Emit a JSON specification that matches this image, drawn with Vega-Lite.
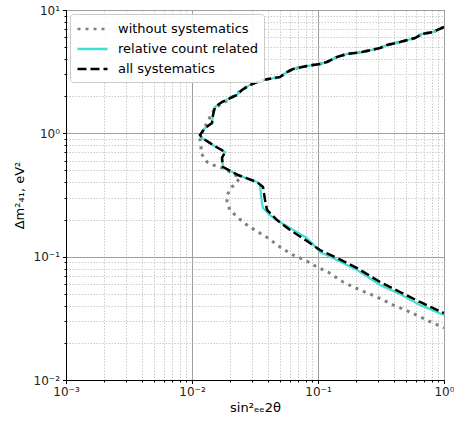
{
  "$schema": "https://vega.github.io/schema/vega-lite/v6.json",
  "width": 378,
  "height": 370,
  "autosize": {"type": "none"},
  "padding": {"left": 66, "top": 10, "right": 10, "bottom": 41},
  "config": {
    "font": "DejaVu Sans",
    "view": {"stroke": "#000", "strokeWidth": 1},
    "axis": {
      "domainColor": "#000",
      "tickColor": "#000",
      "labelColor": "#222",
      "titleColor": "#000",
      "labelFontSize": 12,
      "titleFontSize": 13,
      "titleFontWeight": "normal",
      "labelOverlap": false,
      "labelFlush": false,
      "grid": true,
      "gridColor": {"condition": {"test": "abs(log(datum.value)/LN10 - round(log(datum.value)/LN10)) < 0.001", "value": "#a0a0a0"}, "value": "#cccccc"},
      "gridDash": {"condition": {"test": "abs(log(datum.value)/LN10 - round(log(datum.value)/LN10)) < 0.001", "value": []}, "value": [1.5, 1.5]},
      "tickSize": {"condition": {"test": "abs(log(datum.value)/LN10 - round(log(datum.value)/LN10)) < 0.001", "value": 3.5}, "value": 2}
    },
    "legend": {
      "orient": "top-left",
      "offset": 4,
      "labelFontSize": 13,
      "labelColor": "#000",
      "symbolType": "M-1,0L3,0",
      "symbolSize": 225,
      "symbolStrokeWidth": 2.5,
      "strokeColor": "#cccccc",
      "fillColor": "rgba(255,255,255,0.85)",
      "padding": 6,
      "cornerRadius": 3,
      "rowPadding": 4,
      "labelOffset": 24
    }
  },
  "data": {
    "values": [
      {"series": "without systematics", "i": 1, "x": 1.0, "y": 7.28},
      {"series": "without systematics", "i": 2, "x": 0.818, "y": 6.63},
      {"series": "without systematics", "i": 3, "x": 0.669, "y": 6.39},
      {"series": "without systematics", "i": 4, "x": 0.589, "y": 5.93},
      {"series": "without systematics", "i": 5, "x": 0.447, "y": 5.5},
      {"series": "without systematics", "i": 6, "x": 0.353, "y": 5.2},
      {"series": "without systematics", "i": 7, "x": 0.311, "y": 4.92},
      {"series": "without systematics", "i": 8, "x": 0.2235, "y": 4.56},
      {"series": "without systematics", "i": 9, "x": 0.17, "y": 4.4},
      {"series": "without systematics", "i": 10, "x": 0.1415, "y": 4.16},
      {"series": "without systematics", "i": 11, "x": 0.1179, "y": 3.79},
      {"series": "without systematics", "i": 12, "x": 0.1037, "y": 3.65},
      {"series": "without systematics", "i": 13, "x": 0.0818, "y": 3.52},
      {"series": "without systematics", "i": 14, "x": 0.0633, "y": 3.32},
      {"series": "without systematics", "i": 15, "x": 0.0568, "y": 3.14},
      {"series": "without systematics", "i": 16, "x": 0.0499, "y": 2.86},
      {"series": "without systematics", "i": 17, "x": 0.0366, "y": 2.71},
      {"series": "without systematics", "i": 18, "x": 0.02887, "y": 2.47},
      {"series": "without systematics", "i": 19, "x": 0.02493, "y": 2.25},
      {"series": "without systematics", "i": 20, "x": 0.0193, "y": 1.864},
      {"series": "without systematics", "i": 21, "x": 0.01522, "y": 1.605},
      {"series": "without systematics", "i": 22, "x": 0.0139, "y": 1.356},
      {"series": "without systematics", "i": 23, "x": 0.01315, "y": 1.213},
      {"series": "without systematics", "i": 24, "x": 0.01223, "y": 1.064},
      {"series": "without systematics", "i": 25, "x": 0.01157, "y": 0.883},
      {"series": "without systematics", "i": 26, "x": 0.01179, "y": 0.775},
      {"series": "without systematics", "i": 27, "x": 0.01179, "y": 0.693},
      {"series": "without systematics", "i": 28, "x": 0.01315, "y": 0.586},
      {"series": "without systematics", "i": 29, "x": 0.01468, "y": 0.554},
      {"series": "without systematics", "i": 30, "x": 0.0173, "y": 0.524},
      {"series": "without systematics", "i": 31, "x": 0.02077, "y": 0.477},
      {"series": "without systematics", "i": 32, "x": 0.02404, "y": 0.434},
      {"series": "without systematics", "i": 33, "x": 0.02077, "y": 0.367},
      {"series": "without systematics", "i": 34, "x": 0.01896, "y": 0.316},
      {"series": "without systematics", "i": 35, "x": 0.01896, "y": 0.272},
      {"series": "without systematics", "i": 36, "x": 0.02002, "y": 0.239},
      {"series": "without systematics", "i": 37, "x": 0.02276, "y": 0.21},
      {"series": "without systematics", "i": 38, "x": 0.02732, "y": 0.1806},
      {"series": "without systematics", "i": 39, "x": 0.0334, "y": 0.1585},
      {"series": "without systematics", "i": 40, "x": 0.0401, "y": 0.1417},
      {"series": "without systematics", "i": 41, "x": 0.0499, "y": 0.1198},
      {"series": "without systematics", "i": 42, "x": 0.0633, "y": 0.1032},
      {"series": "without systematics", "i": 43, "x": 0.0788, "y": 0.0939},
      {"series": "without systematics", "i": 44, "x": 0.0982, "y": 0.0824},
      {"series": "without systematics", "i": 45, "x": 0.12, "y": 0.0751},
      {"series": "without systematics", "i": 46, "x": 0.158, "y": 0.0623},
      {"series": "without systematics", "i": 47, "x": 0.2154, "y": 0.0537},
      {"series": "without systematics", "i": 48, "x": 0.294, "y": 0.0471},
      {"series": "without systematics", "i": 49, "x": 0.3936, "y": 0.0406},
      {"series": "without systematics", "i": 50, "x": 0.537, "y": 0.0356},
      {"series": "without systematics", "i": 51, "x": 0.733, "y": 0.0306},
      {"series": "without systematics", "i": 52, "x": 1.0, "y": 0.0264},

      {"series": "relative count related", "i": 1, "x": 1.0, "y": 7.28},
      {"series": "relative count related", "i": 2, "x": 0.818, "y": 6.63},
      {"series": "relative count related", "i": 3, "x": 0.669, "y": 6.39},
      {"series": "relative count related", "i": 4, "x": 0.589, "y": 5.93},
      {"series": "relative count related", "i": 5, "x": 0.447, "y": 5.5},
      {"series": "relative count related", "i": 6, "x": 0.353, "y": 5.2},
      {"series": "relative count related", "i": 7, "x": 0.311, "y": 4.92},
      {"series": "relative count related", "i": 8, "x": 0.2235, "y": 4.56},
      {"series": "relative count related", "i": 9, "x": 0.17, "y": 4.4},
      {"series": "relative count related", "i": 10, "x": 0.1415, "y": 4.16},
      {"series": "relative count related", "i": 11, "x": 0.1179, "y": 3.79},
      {"series": "relative count related", "i": 12, "x": 0.1037, "y": 3.65},
      {"series": "relative count related", "i": 13, "x": 0.0818, "y": 3.52},
      {"series": "relative count related", "i": 14, "x": 0.0633, "y": 3.32},
      {"series": "relative count related", "i": 15, "x": 0.0568, "y": 3.14},
      {"series": "relative count related", "i": 16, "x": 0.0499, "y": 2.86},
      {"series": "relative count related", "i": 17, "x": 0.0366, "y": 2.71},
      {"series": "relative count related", "i": 18, "x": 0.02887, "y": 2.47},
      {"series": "relative count related", "i": 19, "x": 0.02493, "y": 2.25},
      {"series": "relative count related", "i": 20, "x": 0.02276, "y": 2.05},
      {"series": "relative count related", "i": 21, "x": 0.0173, "y": 1.795},
      {"series": "relative count related", "i": 22, "x": 0.01522, "y": 1.635},
      {"series": "relative count related", "i": 23, "x": 0.01468, "y": 1.408},
      {"series": "relative count related", "i": 24, "x": 0.01441, "y": 1.213},
      {"series": "relative count related", "i": 25, "x": 0.01268, "y": 1.105},
      {"series": "relative count related", "i": 26, "x": 0.01157, "y": 0.969},
      {"series": "relative count related", "i": 27, "x": 0.01201, "y": 0.917},
      {"series": "relative count related", "i": 28, "x": 0.01468, "y": 0.804},
      {"series": "relative count related", "i": 29, "x": 0.01828, "y": 0.706},
      {"series": "relative count related", "i": 30, "x": 0.0173, "y": 0.631},
      {"series": "relative count related", "i": 31, "x": 0.01762, "y": 0.533},
      {"series": "relative count related", "i": 32, "x": 0.02318, "y": 0.459},
      {"series": "relative count related", "i": 33, "x": 0.0328, "y": 0.403},
      {"series": "relative count related", "i": 34, "x": 0.0346, "y": 0.381},
      {"series": "relative count related", "i": 35, "x": 0.0359, "y": 0.272},
      {"series": "relative count related", "i": 36, "x": 0.0366, "y": 0.248},
      {"series": "relative count related", "i": 37, "x": 0.0431, "y": 0.21},
      {"series": "relative count related", "i": 38, "x": 0.0499, "y": 0.191},
      {"series": "relative count related", "i": 39, "x": 0.06, "y": 0.1708},
      {"series": "relative count related", "i": 40, "x": 0.0818, "y": 0.1417},
      {"series": "relative count related", "i": 41, "x": 0.1037, "y": 0.1091},
      {"series": "relative count related", "i": 42, "x": 0.1415, "y": 0.0939},
      {"series": "relative count related", "i": 43, "x": 0.204, "y": 0.078},
      {"series": "relative count related", "i": 44, "x": 0.311, "y": 0.0589},
      {"series": "relative count related", "i": 45, "x": 0.447, "y": 0.0498},
      {"series": "relative count related", "i": 46, "x": 0.645, "y": 0.0406},
      {"series": "relative count related", "i": 47, "x": 1.0, "y": 0.0336},

      {"series": "all systematics", "i": 1, "x": 1.0, "y": 7.28},
      {"series": "all systematics", "i": 2, "x": 0.818, "y": 6.63},
      {"series": "all systematics", "i": 3, "x": 0.669, "y": 6.39},
      {"series": "all systematics", "i": 4, "x": 0.589, "y": 5.93},
      {"series": "all systematics", "i": 5, "x": 0.447, "y": 5.5},
      {"series": "all systematics", "i": 6, "x": 0.353, "y": 5.2},
      {"series": "all systematics", "i": 7, "x": 0.311, "y": 4.92},
      {"series": "all systematics", "i": 8, "x": 0.2235, "y": 4.56},
      {"series": "all systematics", "i": 9, "x": 0.17, "y": 4.4},
      {"series": "all systematics", "i": 10, "x": 0.1415, "y": 4.16},
      {"series": "all systematics", "i": 11, "x": 0.1179, "y": 3.79},
      {"series": "all systematics", "i": 12, "x": 0.1037, "y": 3.65},
      {"series": "all systematics", "i": 13, "x": 0.0818, "y": 3.52},
      {"series": "all systematics", "i": 14, "x": 0.0633, "y": 3.32},
      {"series": "all systematics", "i": 15, "x": 0.0568, "y": 3.14},
      {"series": "all systematics", "i": 16, "x": 0.0499, "y": 2.86},
      {"series": "all systematics", "i": 17, "x": 0.0366, "y": 2.71},
      {"series": "all systematics", "i": 18, "x": 0.02887, "y": 2.47},
      {"series": "all systematics", "i": 19, "x": 0.02493, "y": 2.25},
      {"series": "all systematics", "i": 20, "x": 0.02276, "y": 2.05},
      {"series": "all systematics", "i": 21, "x": 0.0173, "y": 1.795},
      {"series": "all systematics", "i": 22, "x": 0.01522, "y": 1.635},
      {"series": "all systematics", "i": 23, "x": 0.01468, "y": 1.408},
      {"series": "all systematics", "i": 24, "x": 0.01441, "y": 1.213},
      {"series": "all systematics", "i": 25, "x": 0.01268, "y": 1.105},
      {"series": "all systematics", "i": 26, "x": 0.01157, "y": 0.969},
      {"series": "all systematics", "i": 27, "x": 0.01201, "y": 0.917},
      {"series": "all systematics", "i": 28, "x": 0.01468, "y": 0.804},
      {"series": "all systematics", "i": 29, "x": 0.01828, "y": 0.706},
      {"series": "all systematics", "i": 30, "x": 0.0173, "y": 0.631},
      {"series": "all systematics", "i": 31, "x": 0.01762, "y": 0.533},
      {"series": "all systematics", "i": 32, "x": 0.02318, "y": 0.459},
      {"series": "all systematics", "i": 33, "x": 0.0328, "y": 0.403},
      {"series": "all systematics", "i": 34, "x": 0.0366, "y": 0.367},
      {"series": "all systematics", "i": 35, "x": 0.038, "y": 0.288},
      {"series": "all systematics", "i": 36, "x": 0.0394, "y": 0.239},
      {"series": "all systematics", "i": 37, "x": 0.0473, "y": 0.198},
      {"series": "all systematics", "i": 38, "x": 0.06, "y": 0.1645},
      {"series": "all systematics", "i": 39, "x": 0.0818, "y": 0.134},
      {"series": "all systematics", "i": 40, "x": 0.1037, "y": 0.1132},
      {"series": "all systematics", "i": 41, "x": 0.1415, "y": 0.0975},
      {"series": "all systematics", "i": 42, "x": 0.204, "y": 0.0809},
      {"series": "all systematics", "i": 43, "x": 0.311, "y": 0.0623},
      {"series": "all systematics", "i": 44, "x": 0.447, "y": 0.0517},
      {"series": "all systematics", "i": 45, "x": 0.645, "y": 0.0429},
      {"series": "all systematics", "i": 46, "x": 1.0, "y": 0.0349}
    ]
  },
  "encoding": {
    "x": {
      "field": "x",
      "type": "quantitative",
      "scale": {"type": "log", "domain": [0.001, 1], "nice": false},
      "axis": {
        "title": "sin²ₑₑ2θ",
        "values": [0.001, 0.002, 0.003, 0.004, 0.005, 0.006, 0.007, 0.008, 0.009, 0.01, 0.02, 0.03, 0.04, 0.05, 0.06, 0.07, 0.08, 0.09, 0.1, 0.2, 0.3, 0.4, 0.5, 0.6, 0.7, 0.8, 0.9, 1],
        "labelExpr": "abs(log(datum.value)/LN10 - round(log(datum.value)/LN10)) > 0.001 ? '' : round(log(datum.value)/LN10) == -3 ? '10⁻³' : round(log(datum.value)/LN10) == -2 ? '10⁻²' : round(log(datum.value)/LN10) == -1 ? '10⁻¹' : '10⁰'",
        "labelPadding": 3,
        "titlePadding": 4
      }
    },
    "y": {
      "field": "y",
      "type": "quantitative",
      "scale": {"type": "log", "domain": [0.01, 10], "nice": false},
      "axis": {
        "title": "Δm²₄₁, eV²",
        "values": [0.01, 0.02, 0.03, 0.04, 0.05, 0.06, 0.07, 0.08, 0.09, 0.1, 0.2, 0.3, 0.4, 0.5, 0.6, 0.7, 0.8, 0.9, 1, 2, 3, 4, 5, 6, 7, 8, 9, 10],
        "labelExpr": "abs(log(datum.value)/LN10 - round(log(datum.value)/LN10)) > 0.001 ? '' : round(log(datum.value)/LN10) == -2 ? '10⁻²' : round(log(datum.value)/LN10) == -1 ? '10⁻¹' : round(log(datum.value)/LN10) == 0 ? '10⁰' : '10¹'",
        "labelPadding": 3,
        "titlePadding": 7
      }
    },
    "order": {"field": "i", "type": "quantitative"},
    "color": {
      "field": "series",
      "type": "nominal",
      "scale": {"domain": ["without systematics", "relative count related", "all systematics"], "range": ["#808080", "#40E0D0", "#000000"]},
      "legend": {"title": null}
    },
    "strokeDash": {
      "field": "series",
      "type": "nominal",
      "scale": {"domain": ["without systematics", "relative count related", "all systematics"], "range": [[3, 5], [1, 0], [9, 4]]},
      "legend": {"title": null}
    }
  },
  "layer": [
    {"transform": [{"filter": "datum.series == 'without systematics'"}], "mark": {"type": "line", "strokeWidth": 3, "clip": true}},
    {"transform": [{"filter": "datum.series == 'relative count related'"}], "mark": {"type": "line", "strokeWidth": 2.2, "clip": true}},
    {"transform": [{"filter": "datum.series == 'all systematics'"}], "mark": {"type": "line", "strokeWidth": 2.5, "clip": true}}
  ]
}
